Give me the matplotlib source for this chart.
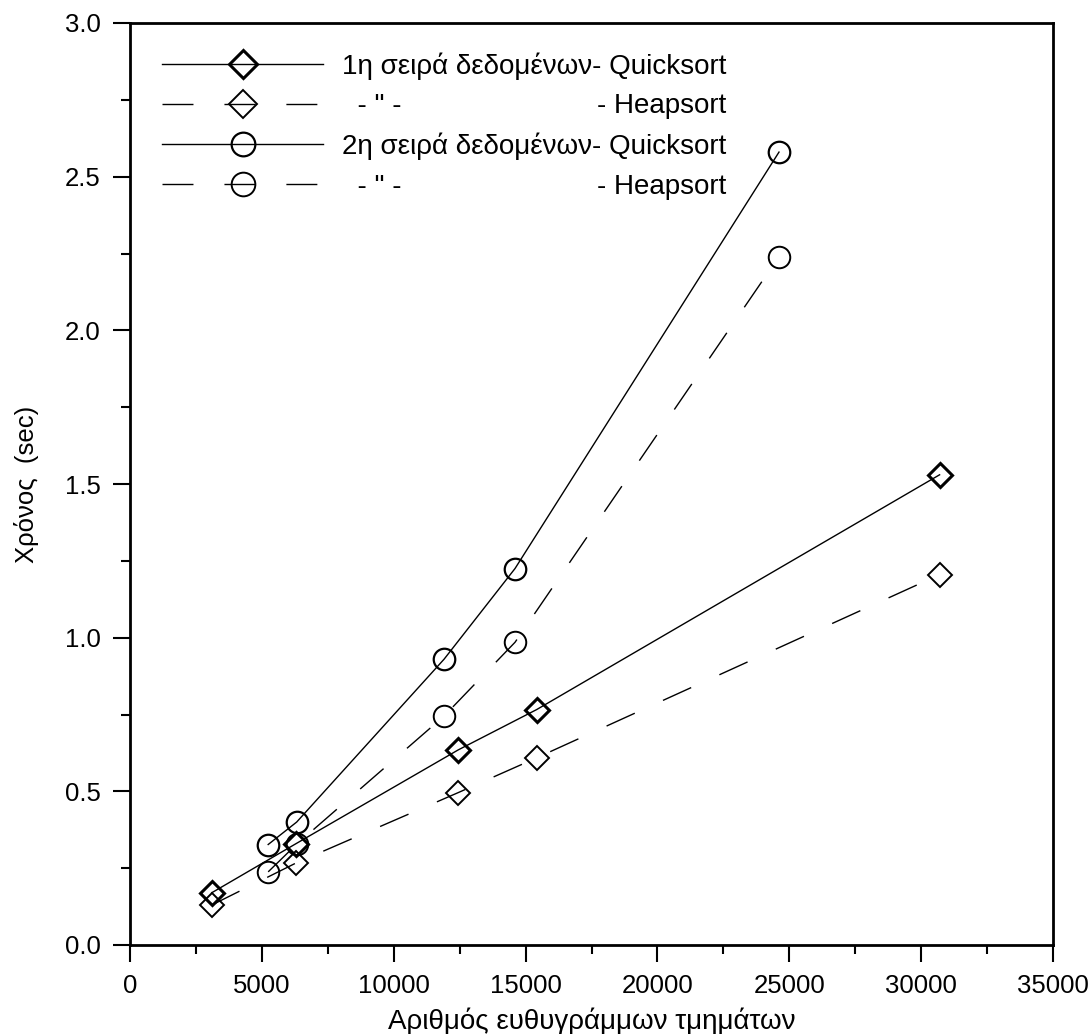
import matplotlib
matplotlib.use("Agg")
import matplotlib.pyplot as plt
from matplotlib.ticker import MultipleLocator, FormatStrFormatter

plt.rcParams['font.family'] = ['Liberation Sans', 'DejaVu Sans']
plt.rcParams['lines.scale_dashes'] = False

# 1η σειρά δεδομένων
x1 = [3100, 6300, 12450, 15420, 30700]
quick1 = [0.17, 0.33, 0.635, 0.766, 1.53]
heap1 = [0.13, 0.267, 0.496, 0.609, 1.205]

# 2η σειρά δεδομένων
x2 = [5240, 6320, 11910, 14600, 24610]
quick2 = [0.327, 0.40, 0.93, 1.225, 2.58]
heap2 = [0.238, 0.328, 0.745, 0.985, 2.24]

labels = ['1η σειρά δεδομένων- Quicksort', '  - " -',
          '2η σειρά δεδομένων- Quicksort', '  - " -']

dash = (0, (22.3, 22.3))

fig = plt.figure(figsize=(10.91, 10.34), dpi=100)
ax = fig.add_axes([130/1091, 1 - 945/1034, 923/1091, 922/1034])

ax.plot(x1, quick1, '-', color='black', lw=1.0, marker='D', ms=12.5,
        mfc='none', mec='black', mew=2.2, label=labels[0])
ax.plot(x1, heap1, linestyle=dash, color='black', lw=1.0, marker='D', ms=12.5,
        mfc='none', mec='black', mew=1.4, label=labels[1])
ax.plot(x2, quick2, '-', color='black', lw=1.0, marker='o', ms=15.5,
        mfc='none', mec='black', mew=1.6, label=labels[2])
ax.plot(x2, heap2, linestyle=dash, color='black', lw=1.0, marker='o', ms=15.5,
        mfc='none', mec='black', mew=1.4, label=labels[3])

ax.set_xlim(0, 35000)
ax.set_ylim(0, 3.0)
ax.xaxis.set_major_locator(MultipleLocator(5000))
ax.xaxis.set_minor_locator(MultipleLocator(2500))
ax.yaxis.set_major_locator(MultipleLocator(0.5))
ax.yaxis.set_minor_locator(MultipleLocator(0.25))
ax.yaxis.set_major_formatter(FormatStrFormatter('%.1f'))

for s in ax.spines.values():
    s.set_linewidth(2.0)
ax.tick_params(which='major', direction='out', length=12, width=1.5,
               labelsize=18.5, pad=9)
ax.tick_params(which='minor', direction='out', length=6.5, width=1.5)

ax.set_xlabel('Αριθμός ευθυγράμμων τμημάτων', fontsize=20, labelpad=7)
ax.set_ylabel('Χρόνος  (sec)', fontsize=18.5, labelpad=19)

leg = ax.legend(loc='upper left', bbox_to_anchor=(0.0347, 0.968),
                frameon=False, fontsize=20, handlelength=5.8,
                handletextpad=0.68, labelspacing=0.48, borderaxespad=0,
                borderpad=0, markerscale=1.1)
texts = leg.get_texts()
for i in (1, 3):
    ax.annotate('- Heapsort', xy=(1, 0), xycoords=(texts[i - 1], texts[i]),
                ha='right', va='bottom', fontsize=20, zorder=10,
                annotation_clip=False)

fig.savefig('out.png', dpi=100)
